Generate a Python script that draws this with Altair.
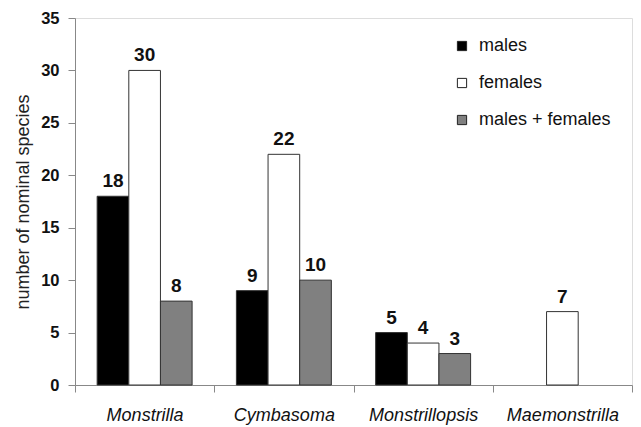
import altair as alt
import pandas as pd

genera = ["Monstrilla", "Cymbasoma", "Monstrillopsis", "Maemonstrilla"]
groups = ["males", "females", "males + females"]
males = [18, 9, 5, None]
females = [30, 22, 4, 7]
both = [8, 10, 3, None]
colors = ["#000000", "#ffffff", "#808080"]
y_ticks = [0, 5, 10, 15, 20, 25, 30, 35]

rows = []
for i, g in enumerate(genera):
    for grp, vals in zip(groups, [males, females, both]):
        if vals[i] is not None:
            rows.append({"genus": g, "sex": grp, "n": vals[i]})
df = pd.DataFrame(rows)

FONT = "Liberation Sans"

x = alt.X(
    "genus:N", sort=genera,
    scale=alt.Scale(paddingInner=0, paddingOuter=0),
    axis=alt.Axis(title=None, labelAngle=0, labelFontStyle="italic", labelFontSize=18,
                  tickBand="extent", tickSize=7, labelPadding=14,
                  domainColor="#888", tickColor="#888", labelColor="#111", labelFont=FONT),
)
xo = alt.XOffset("sex:N", sort=groups,
                 scale=alt.Scale(domain=groups, paddingInner=0, paddingOuter=0.7))
y = alt.Y(
    "n:Q", scale=alt.Scale(domain=[0, 35], nice=False),
    axis=alt.Axis(values=y_ticks, title="number of nominal species", grid=False,
                  labelFontWeight="bold", labelFontSize=16.5, labelColor="#111", labelFont=FONT,
                  tickSize=7, labelPadding=9, domainColor="#888", tickColor="#888",
                  titleFontSize=18, titleFontWeight="normal", titleColor="#222",
                  titleFont=FONT, titlePadding=8),
)

bars = alt.Chart(df).mark_bar(stroke="#333", strokeWidth=1).encode(
    x=x, xOffset=xo, y=y,
    fill=alt.Fill("sex:N", scale=alt.Scale(domain=groups, range=colors),
                  legend=alt.Legend(title=None, orient="none", legendX=378, legendY=19,
                                    symbolType="square", symbolSize=85,
                                    symbolStrokeColor="#222", symbolStrokeWidth=1,
                                    labelFontSize=18, labelFont=FONT, labelColor="#111",
                                    rowPadding=19, labelOffset=8)),
)

labels = alt.Chart(df).mark_text(dy=-9, baseline="alphabetic", fontWeight="bold",
                                 fontSize=19, font=FONT, color="#111").encode(
    x=alt.X("genus:N", sort=genera), xOffset=alt.XOffset("sex:N", sort=groups), y="n:Q",
    text="n:Q",
)

chart = (bars + labels).properties(
    width=557, height=367,
    autosize=alt.AutoSizeParams(type="none"),
    padding={"left": 67, "top": 10, "right": 1, "bottom": 42},
).configure_view(stroke="#555", strokeWidth=1).configure(font=FONT)

chart.save("out.html", embed_options={"renderer": "svg", "actions": False})
